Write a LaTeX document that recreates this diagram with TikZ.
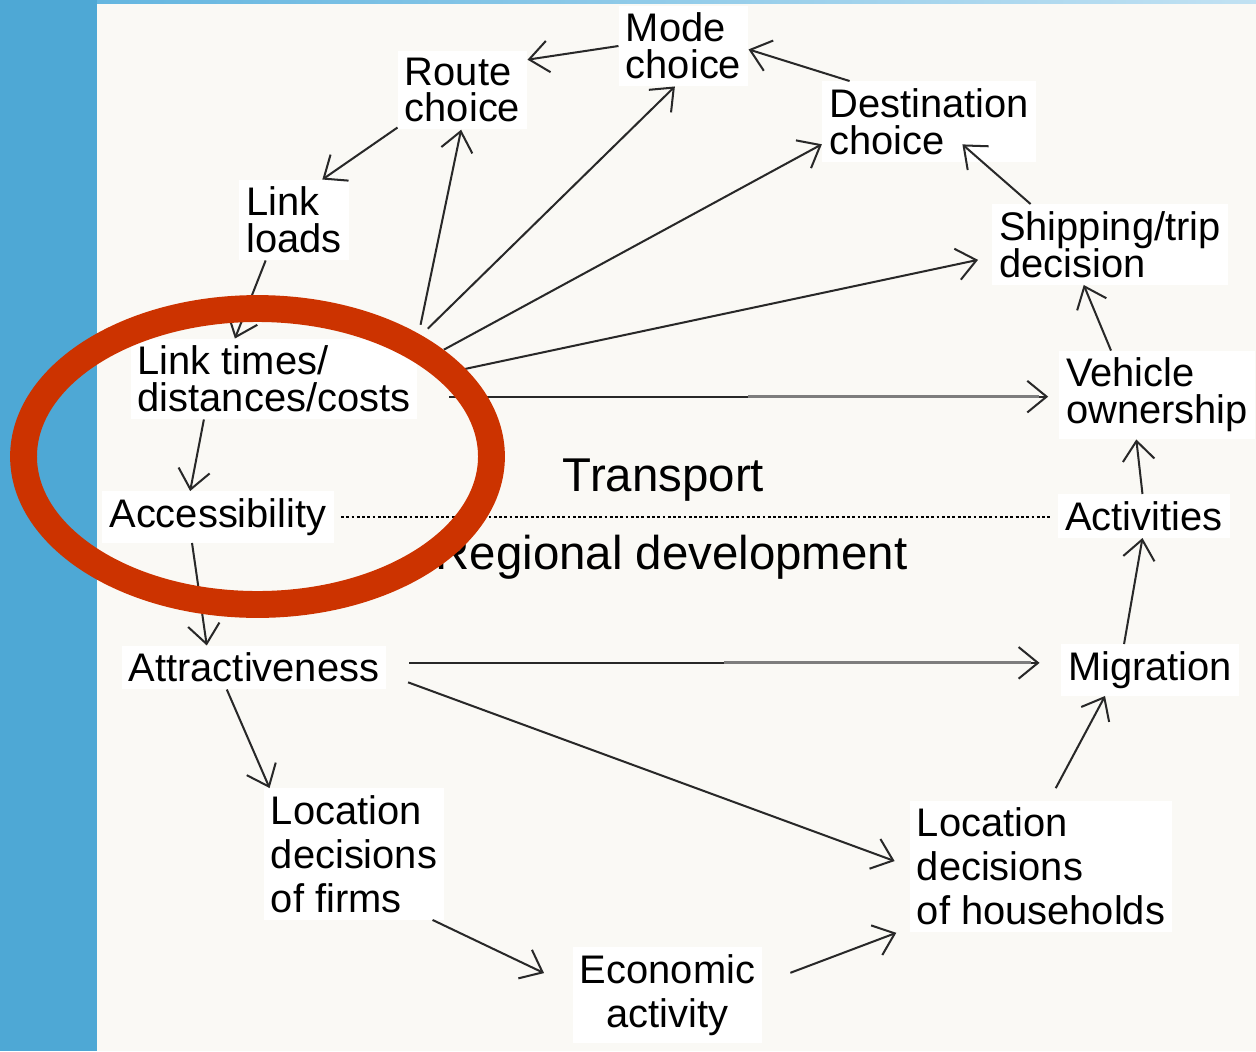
\documentclass[tikz,border=0pt]{standalone}
\usepackage{fontspec}
\setmainfont{Liberation Sans}
\usetikzlibrary{arrows.meta, positioning}

\definecolor{slideblue}{RGB}{78,168,213}
\definecolor{stripblue}{RGB}{100,182,224}
\definecolor{paper}{RGB}{250,249,245}
\definecolor{ringred}{RGB}{204,51,0}
\definecolor{linegray}{RGB}{40,40,40}
\definecolor{fadegray}{RGB}{125,125,125}

% tight and loose line spacing for the labels
\newcommand{\tightfont}{\fontsize{22.7}{21}\selectfont\lineskiplimit -10pt\relax}
\newcommand{\loosefont}{\fontsize{22.7}{25}\selectfont\lineskiplimit -10pt\relax}

\begin{document}
\begin{tikzpicture}[x=0.02cm, y=-0.02cm,
    arr/.style={-{Straight Barb[length=11pt, width=18pt]}, line width=1.15pt, draw=linegray},
    fade/.style={line width=1.7pt, draw=fadegray},
    box/.style={fill=white, inner sep=4pt, align=left, text=black, font=\tightfont},
    lowbox/.style={box, font=\loosefont},
    zone/.style={text=black, font=\fontsize{27}{30}\selectfont},
    sep/.style={line width=1.3pt, dash pattern=on 1.6pt off 1.4pt, draw=black},
]
\useasboundingbox (0,0) rectangle (1256,1051);

% Slide background
\fill[paper] (0,0) rectangle (1256,1051);
\fill[slideblue] (0,0) rectangle (97,1051);
\shade[left color=stripblue, right color=stripblue!40] (97,0) rectangle (1256,4);

% --- Transport ---
\node[box] (mc) at (683.5,46) {Mode\\choice};
\node[box] (rc) at (462.5,90) {Route\\choice};
\node[box] (dc) at (929,121.5) {Destination\\choice};
\node[box] (ll) at (294,220) {Link\\loads};
\node[box] (sd) at (1110,244.5) {Shipping/trip\\decision};
\node[box] (lt) at (274,379) {Link times/\\distances/costs};
\node[box] (vo) at (1157,395) {Vehicle\\ownership};
\node[box] (ac) at (218,517) {Accessibility};
\node[box] (at) at (1144,516) {Activities};

% --- Regional development ---
\node[box] (attr) at (254,667.5) {Attractiveness};
\node[box] (mg) at (1150,670) {Migration};
\node[lowbox] (lf) at (354,854) {Location\\decisions\\of firms};
\node[lowbox] (lh) at (1041,866.5) {Location\\decisions\\of households};
\node[lowbox, align=center] (ea) at (667.5,995) {Economic\\activity};

% zone labels
\node[zone] (tr) at (663.5,480) {Transport};
\node[zone] (rd) at (671.5,557) {Regional development};

% border between the two zones
\draw[sep, shorten <=4pt, shorten >=4pt] (ac.east) -- (ac.east -| at.west);

% transport chain
\draw[arr] (mc.west) -- (rc.25);
\draw[arr] (dc.153) -- (mc.357);
\draw[arr] (rc.210) -- (ll.55);
\draw[arr] (ll.235) -- (lt.134);
\draw[arr, shorten <=8pt] (lt.north east) -- (rc.268);
\draw[arr, shorten <=8pt] (lt.north east) -- (mc.258);
\draw[arr, shorten <=17pt] (lt.6) -- (dc.192);
\draw[arr, shorten <=27pt, shorten >=8pt] (lt.east) -- (sd.186);
\draw[arr, shorten <=18pt, shorten >=6pt] (lt.353) -- (lt.353 -| vo.west);
\draw[fade, shorten <=188pt, shorten >=11pt] (lt.353) -- (lt.353 -| vo.west);
\draw[arr] (vo.136) -- (sd.237);
\draw[arr] (sd.153) -- ([xshift=19pt, yshift=10pt]dc.south);
\draw[arr] (lt.210) -- (ac.137);
\draw[arr] (at.94) -- (vo.245);

% land use chain
\draw[arr] (ac.225) -- (attr.155);
\draw[arr, shorten <=13pt, shorten >=12pt] (attr.2) -- (attr.2 -| mg.west);
\draw[fade, shorten <=192pt, shorten >=17pt] (attr.2) -- (attr.2 -| mg.west);
\draw[arr, shorten <=13pt, shorten >=9pt] (attr.357) -- (lh.west);
\draw[arr] (attr.219) -- (lf.142);
\draw[arr, shorten >=18pt] (lf.320) -- (ea.175);
\draw[arr, shorten <=17pt, shorten >=8pt] (ea.7) -- (lh.205);
\draw[arr, shorten <=8pt] (lh.83) -- (mg.210);
\draw[arr] (mg.135) -- (at.266);

% highlight ring
\draw[ringred, line width=15.3pt] (257.5,456.5) ellipse [x radius=4.68cm, y radius=2.96cm];

\end{tikzpicture}
\end{document}
